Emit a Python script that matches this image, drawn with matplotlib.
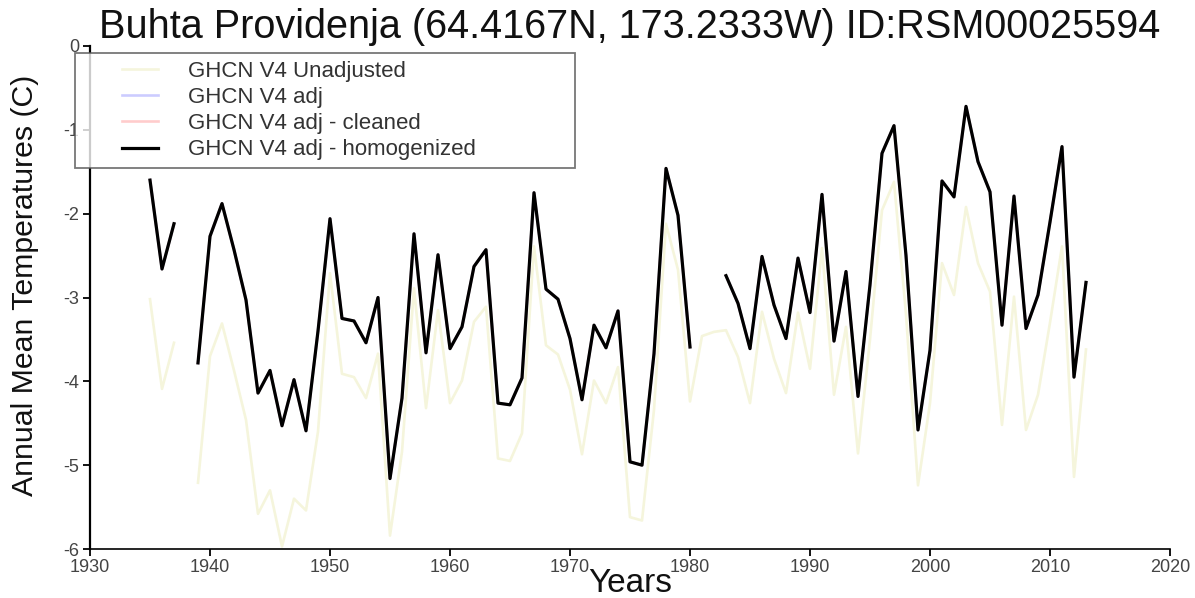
import numpy as np
import matplotlib
matplotlib.use("Agg")
import matplotlib.pyplot as plt
from matplotlib.lines import Line2D
from matplotlib.legend_handler import HandlerLine2D

plt.rcParams['font.family'] = ['Liberation Sans', 'DejaVu Sans']

years = list(range(1935, 2014))

# Homogenized series (None = missing)
homog = [-1.60, -2.66, -2.12, None, -3.78, -2.27, -1.88, -2.43, -3.03, -4.14,
         -3.87, -4.53, -3.98, -4.59, -3.40, -2.06, -3.25, -3.28, -3.54, -3.00,
         -5.16, -4.20, -2.24, -3.66, -2.49, -3.61, -3.35, -2.63, -2.43, -4.26,
         -4.28, -3.96, -1.75, -2.90, -3.02, -3.49, -4.22, -3.33, -3.60, -3.16,
         -4.96, -5.00, -3.67, -1.46, -2.02, -3.59, None, None, -2.74, -3.07,
         -3.61, -2.51, -3.09, -3.49, -2.53, -3.18, -1.77, -3.52, -2.69, -4.18,
         -2.85, -1.28, -0.95, -2.50, -4.58, -3.63, -1.61, -1.80, -0.72, -1.38,
         -1.74, -3.33, -1.79, -3.37, -2.97, -2.10, -1.20, -3.95, -2.82]

# Unadjusted series
unadj = [-3.02, -4.09, -3.54, None, -5.21, -3.70, -3.31, -3.87, -4.46, -5.58,
         -5.30, -5.97, -5.40, -5.54, -4.60, -2.71, -3.91, -3.95, -4.20, -3.67,
         -5.84, -4.84, -2.89, -4.32, -3.15, -4.26, -3.99, -3.29, -3.11, -4.92,
         -4.95, -4.62, -2.39, -3.57, -3.68, -4.10, -4.87, -3.99, -4.26, -3.83,
         -5.62, -5.66, -4.34, -2.12, -2.67, -4.24, -3.46, -3.41, -3.39, -3.71,
         -4.26, -3.17, -3.73, -4.14, -3.18, -3.85, -2.41, -4.16, -3.35, -4.86,
         -3.50, -1.96, -1.62, -3.20, -5.24, -4.26, -2.59, -2.97, -1.92, -2.59,
         -2.93, -4.52, -2.99, -4.58, -4.16, -3.30, -2.39, -5.14, -3.62]

# Adjusted and cleaned series lie under the homogenized line
adj = list(homog)
cleaned = list(homog)

xticks = list(range(1930, 2021, 10))
yticks = [0, -1, -2, -3, -4, -5, -6]

def arr(v):
    return np.array([np.nan if x is None else x for x in v], dtype=float)

W, H = 1195, 598
fig = plt.figure(figsize=(W / 100, H / 100), dpi=100)
ax = fig.add_axes([90/W, 1-549/H, 1080/W, 503/H])

ax.plot(years, arr(unadj), color='#f5f5dc', lw=1.9, label='GHCN V4 Unadjusted')
ax.plot(years, arr(adj), color='#ccccff', lw=1.9, label='GHCN V4 adj')
ax.plot(years, arr(cleaned), color='#ffcccc', lw=1.9, label='GHCN V4 adj - cleaned')
ax.plot(years, arr(homog), color='black', lw=2.3, label='GHCN V4 adj - homogenized')

ax.set_xlim(1930, 2020)
ax.set_ylim(-6, 0)
ax.set_xticks(xticks)
ax.set_yticks(yticks)
ax.set_yticklabels([str(t) for t in yticks])

for s in ['top', 'right']:
    ax.spines[s].set_visible(False)
ax.spines['left'].set_linewidth(1.6)
ax.spines['bottom'].set_linewidth(1.2)
ax.tick_params(axis='both', labelsize=13, labelcolor='#444444', color='black')
ax.tick_params(axis='x', length=5, width=1.3, pad=2)
ax.tick_params(axis='y', length=5, width=1.3, pad=3)

ax.set_title('Buhta Providenja (64.4167N, 173.2333W) ID:RSM00025594',
             fontsize=28.5, pad=4.5, color='#111111')
ax.set_xlabel('Years', fontsize=24, color='#111111')
ax.xaxis.label.set_verticalalignment('baseline')
ax.xaxis.set_label_coords(0.5, (549 - 592) / 503)
ax.set_ylabel('Annual Mean Temperatures (C)', fontsize=21.8, color='#111111')
ax.yaxis.set_label_coords(-0.047, 0.525)

fs_leg = 16
fs_px = fs_leg * 100 / 72
leg = ax.legend(loc='upper left', bbox_to_anchor=(-15/1080, 0, 500/1080, 1-7/503),
                mode='expand', borderaxespad=0, fontsize=fs_leg, frameon=True,
                fancybox=False, edgecolor='#555555',
                handlelength=75/fs_px, handletextpad=30/fs_px,
                labelspacing=0.23, borderpad=0.36, labelcolor='#333333',
                handler_map={Line2D: HandlerLine2D(xpad=39/fs_px)})
leg.get_frame().set_linewidth(1.3)

fig.savefig('out.png', dpi=100)
